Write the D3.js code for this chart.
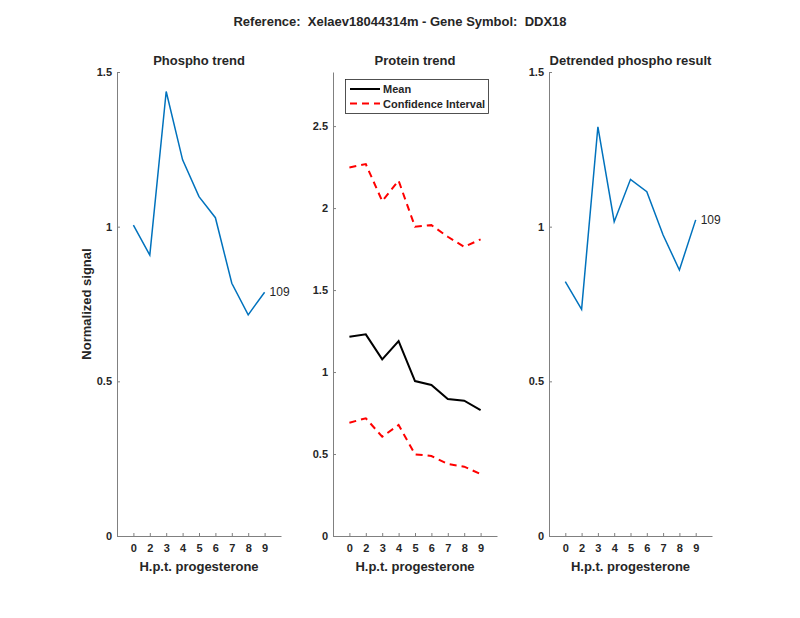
<!DOCTYPE html>
<html>
<head>
<meta charset="utf-8">
<script src="https://cdn.jsdelivr.net/npm/d3@7"></script>
<style>
body { margin: 0; background: #fff; }
text { font-family: "Liberation Sans", Arial, sans-serif; fill: #262626; }
</style>
</head>
<body>
<div id="chart"></div>
<script>
// data
var timeLabels = ["0", "2", "3", "4", "5", "6", "7", "8", "9"];
var phospho = [1.005, 0.908, 1.437, 1.216, 1.097, 1.029, 0.817, 0.715, 0.788];
var detrended = [0.822, 0.733, 1.323, 1.016, 1.153, 1.113, 0.973, 0.860, 1.022];
var proteinMean = [1.215, 1.230, 1.077, 1.189, 0.945, 0.921, 0.835, 0.825, 0.768];
var proteinUpper = [2.248, 2.268, 2.043, 2.167, 1.886, 1.896, 1.825, 1.764, 1.809];
var proteinLower = [0.691, 0.718, 0.606, 0.677, 0.498, 0.488, 0.439, 0.423, 0.378];
var phosphoTicks = [0, 0.5, 1, 1.5];
var proteinTicks = [0, 0.5, 1, 1.5, 2, 2.5];
var peptideId = "109";

var W = 800, H = 618;
var svg = d3.select("#chart").append("svg").attr("width", W).attr("height", H);

svg.append("text")
  .attr("x", 400).attr("y", 26)
  .attr("text-anchor", "middle")
  .attr("font-size", "13px").attr("font-weight", "bold")
  .attr("fill", "#000")
  .style("white-space", "pre")
  .text("Reference:  Xelaev18044314m - Gene Symbol:  DDX18");

var plotTop = 72, plotBottom = 536;

function panel(left, right, title, ymax, yticks, series) {
  var g = svg.append("g");
  var x = d3.scaleLinear().domain([0, 10]).range([left, right]);
  var y = d3.scaleLinear().domain([0, ymax]).range([plotBottom, plotTop]);
  var idx = d3.range(1, timeLabels.length + 1);

  // axes
  var xa = g.append("g").attr("transform", "translate(0," + plotBottom + ")")
    .call(d3.axisBottom(x).tickValues(idx).tickSizeInner(-3).tickSizeOuter(0)
      .tickFormat(function(d) { return timeLabels[d - 1]; }));
  var ya = g.append("g").attr("transform", "translate(" + left + ",0)")
    .call(d3.axisLeft(y).tickValues(yticks).tickSizeInner(-3).tickSizeOuter(0)
      .tickFormat(function(d) { return d; }));
  [xa, ya].forEach(function(a) {
    a.select(".domain").attr("stroke", "#808080");
    a.selectAll(".tick line").attr("stroke", "#808080");
    a.selectAll(".tick text").attr("font-size", "11px").attr("font-weight", "bold")
      .attr("font-family", "'Liberation Sans', Arial, sans-serif").attr("fill", "#262626");
  });
  xa.selectAll(".tick text").attr("y", 8);
  ya.selectAll(".tick text").attr("x", -5);

  g.append("text")
    .attr("x", (left + right) / 2).attr("y", 65)
    .attr("text-anchor", "middle")
    .attr("font-size", "13px").attr("font-weight", "bold").attr("fill", "#000")
    .text(title);

  g.append("text")
    .attr("x", (left + right) / 2).attr("y", 571)
    .attr("text-anchor", "middle")
    .attr("font-size", "13px").attr("font-weight", "bold")
    .text("H.p.t. progesterone");

  var line = d3.line().x(function(d, i) { return x(i + 1); }).y(function(d) { return y(d); });
  series.forEach(function(s) {
    g.append("path").datum(s.values)
      .attr("d", line)
      .attr("fill", "none")
      .attr("stroke", s.color)
      .attr("stroke-width", s.width)
      .attr("stroke-dasharray", s.dash || null);
  });
  return {g: g, x: x, y: y};
}

var p1 = panel(117, 281, "Phospho trend", 1.5, phosphoTicks,
  [{values: phospho, color: "#0072BD", width: 1.5}]);
p1.g.append("text")
  .attr("x", p1.x(9) + 5).attr("y", p1.y(phospho[8]) + 4)
  .attr("font-size", "12px").attr("fill", "#000")
  .text(peptideId);

var p2 = panel(333, 497, "Protein trend", 2.83, proteinTicks, [
  {values: proteinUpper, color: "#FF0000", width: 2, dash: "7,5"},
  {values: proteinLower, color: "#FF0000", width: 2, dash: "7,5"},
  {values: proteinMean, color: "#000", width: 2}
]);

var p3 = panel(549, 712, "Detrended phospho result", 1.5, phosphoTicks,
  [{values: detrended, color: "#0072BD", width: 1.5}]);
p3.g.append("text")
  .attr("x", p3.x(9) + 5).attr("y", p3.y(detrended[8]) + 4)
  .attr("font-size", "12px").attr("fill", "#000")
  .text(peptideId);

// y label
svg.append("text")
  .attr("transform", "translate(91,304) rotate(-90)")
  .attr("text-anchor", "middle")
  .attr("font-size", "13px").attr("font-weight", "bold")
  .text("Normalized signal");

// legend
var lg = svg.append("g");
lg.append("rect").attr("x", 345.5).attr("y", 79.5).attr("width", 143).attr("height", 34)
  .attr("fill", "#fff").attr("stroke", "#262626").attr("stroke-width", 0.8);
var legendItems = [
  {label: "Mean", color: "#000", dash: null},
  {label: "Confidence Interval", color: "#FF0000", dash: "7,5"}
];
legendItems.forEach(function(d, i) {
  var yy = 89 + i * 14.5;
  lg.append("line").attr("x1", 350).attr("x2", 380).attr("y1", yy).attr("y2", yy)
    .attr("stroke", d.color).attr("stroke-width", 2).attr("stroke-dasharray", d.dash);
  lg.append("text").attr("x", 383).attr("y", yy + 4)
    .attr("font-size", "11px").attr("font-weight", "bold").attr("fill", "#000")
    .text(d.label);
});
</script>
</body>
</html>
